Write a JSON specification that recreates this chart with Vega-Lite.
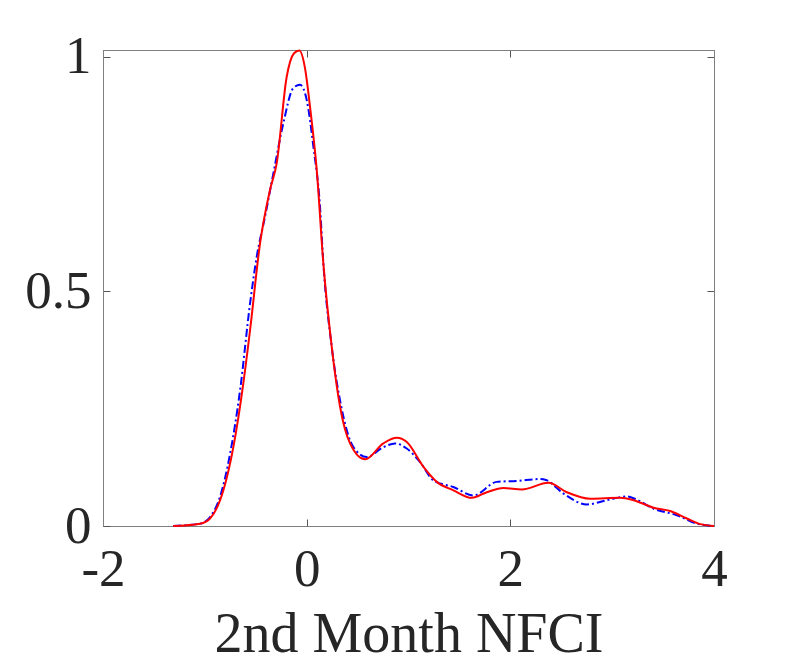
{
  "$schema": "https://vega.github.io/schema/vega-lite/v6.json",
  "width": 611,
  "height": 476,
  "autosize": "none",
  "padding": {"left": 103, "top": 50, "right": 75, "bottom": 138},
  "background": "white",
  "datasets": {
    "kde": [
      {"series": "blue", "x": -1.31, "y": 0},
      {"series": "blue", "x": -1.047, "y": 0.005},
      {"series": "blue", "x": -0.949, "y": 0.019},
      {"series": "blue", "x": -0.851, "y": 0.062},
      {"series": "blue", "x": -0.752, "y": 0.154},
      {"series": "blue", "x": -0.654, "y": 0.289},
      {"series": "blue", "x": -0.556, "y": 0.474},
      {"series": "blue", "x": -0.49, "y": 0.574},
      {"series": "blue", "x": -0.409, "y": 0.659},
      {"series": "blue", "x": -0.327, "y": 0.751},
      {"series": "blue", "x": -0.229, "y": 0.858},
      {"series": "blue", "x": -0.131, "y": 0.933},
      {"series": "blue", "x": -0.065, "y": 0.94},
      {"series": "blue", "x": 0.0, "y": 0.908},
      {"series": "blue", "x": 0.066, "y": 0.808},
      {"series": "blue", "x": 0.131, "y": 0.68},
      {"series": "blue", "x": 0.164, "y": 0.559},
      {"series": "blue", "x": 0.246, "y": 0.382},
      {"series": "blue", "x": 0.34, "y": 0.254},
      {"series": "blue", "x": 0.459, "y": 0.168},
      {"series": "blue", "x": 0.59, "y": 0.147},
      {"series": "blue", "x": 0.753, "y": 0.168},
      {"series": "blue", "x": 0.868, "y": 0.176},
      {"series": "blue", "x": 0.983, "y": 0.165},
      {"series": "blue", "x": 1.114, "y": 0.136},
      {"series": "blue", "x": 1.245, "y": 0.097},
      {"series": "blue", "x": 1.441, "y": 0.083},
      {"series": "blue", "x": 1.637, "y": 0.065},
      {"series": "blue", "x": 1.867, "y": 0.094},
      {"series": "blue", "x": 2.063, "y": 0.096},
      {"series": "blue", "x": 2.292, "y": 0.1},
      {"series": "blue", "x": 2.35, "y": 0.098},
      {"series": "blue", "x": 2.522, "y": 0.069},
      {"series": "blue", "x": 2.751, "y": 0.046},
      {"series": "blue", "x": 2.948, "y": 0.055},
      {"series": "blue", "x": 3.145, "y": 0.063},
      {"series": "blue", "x": 3.243, "y": 0.056},
      {"series": "blue", "x": 3.406, "y": 0.037},
      {"series": "blue", "x": 3.636, "y": 0.023},
      {"series": "blue", "x": 3.832, "y": 0.005},
      {"series": "blue", "x": 4.0, "y": 0},
      {"series": "red", "x": -1.31, "y": 0},
      {"series": "red", "x": -1.047, "y": 0.005},
      {"series": "red", "x": -0.949, "y": 0.016},
      {"series": "red", "x": -0.818, "y": 0.076},
      {"series": "red", "x": -0.72, "y": 0.168},
      {"series": "red", "x": -0.622, "y": 0.304},
      {"series": "red", "x": -0.556, "y": 0.417},
      {"series": "red", "x": -0.458, "y": 0.602},
      {"series": "red", "x": -0.36, "y": 0.716},
      {"series": "red", "x": -0.294, "y": 0.773},
      {"series": "red", "x": -0.196, "y": 0.957},
      {"series": "red", "x": -0.124, "y": 1.007},
      {"series": "red", "x": -0.072, "y": 1.013},
      {"series": "red", "x": -0.016, "y": 0.975},
      {"series": "red", "x": 0.033, "y": 0.893},
      {"series": "red", "x": 0.099, "y": 0.758},
      {"series": "red", "x": 0.164, "y": 0.559},
      {"series": "red", "x": 0.246, "y": 0.382},
      {"series": "red", "x": 0.328, "y": 0.254},
      {"series": "red", "x": 0.426, "y": 0.176},
      {"series": "red", "x": 0.574, "y": 0.142},
      {"series": "red", "x": 0.753, "y": 0.176},
      {"series": "red", "x": 0.885, "y": 0.188},
      {"series": "red", "x": 0.983, "y": 0.179},
      {"series": "red", "x": 1.147, "y": 0.126},
      {"series": "red", "x": 1.278, "y": 0.094},
      {"series": "red", "x": 1.441, "y": 0.076},
      {"series": "red", "x": 1.622, "y": 0.06},
      {"series": "red", "x": 1.769, "y": 0.072},
      {"series": "red", "x": 1.932, "y": 0.081},
      {"series": "red", "x": 2.113, "y": 0.078},
      {"series": "red", "x": 2.374, "y": 0.092},
      {"series": "red", "x": 2.555, "y": 0.072},
      {"series": "red", "x": 2.784, "y": 0.058},
      {"series": "red", "x": 3.079, "y": 0.06},
      {"series": "red", "x": 3.21, "y": 0.055},
      {"series": "red", "x": 3.406, "y": 0.039},
      {"series": "red", "x": 3.57, "y": 0.032},
      {"series": "red", "x": 3.734, "y": 0.016},
      {"series": "red", "x": 3.865, "y": 0.004},
      {"series": "red", "x": 4.0, "y": 0}
    ]
  },
  "data": {"name": "kde"},
  "layer": [
    {
      "transform": [{"filter": "datum.series == 'blue'"}],
      "mark": {
        "type": "line",
        "interpolate": "monotone",
        "color": "#0000ff",
        "strokeWidth": 2,
        "strokeDash": [8, 3, 2, 3]
      },
      "encoding": {
        "x": {
          "field": "x",
          "type": "quantitative",
          "scale": {"domain": [-2, 4], "nice": false},
          "axis": {
            "orient": "bottom",
            "values": [-2, 0, 2, 4],
            "labelExpr": "'' + datum.value",
            "labelPadding": 24,
            "title": "2nd Month NFCI",
            "titlePadding": 11
          }
        },
        "y": {
          "field": "y",
          "type": "quantitative",
          "scale": {"domain": [0, 1.014], "nice": false},
          "axis": {
            "orient": "left",
            "values": [0, 0.5, 1],
            "labelExpr": "'' + datum.value",
            "labelPadding": 19,
            "title": null
          }
        }
      }
    },
    {
      "transform": [{"filter": "datum.series == 'red'"}],
      "mark": {
        "type": "line",
        "interpolate": "monotone",
        "color": "#ff0000",
        "strokeWidth": 2
      },
      "encoding": {
        "x": {
          "field": "x",
          "type": "quantitative",
          "axis": {"orient": "top", "values": [-2, 0, 2, 4], "labels": false, "title": null}
        },
        "y": {
          "field": "y",
          "type": "quantitative",
          "axis": {"orient": "right", "values": [0, 0.5, 1], "labels": false, "title": null}
        }
      }
    }
  ],
  "resolve": {"axis": {"x": "independent", "y": "independent"}},
  "config": {
    "view": {"stroke": "#7f7f7f", "strokeWidth": 1},
    "axis": {
      "grid": false,
      "domainColor": "#7f7f7f",
      "tickColor": "#555555",
      "tickSize": -7,
      "labelFlush": false,
      "labelFont": "Liberation Serif",
      "labelFontSize": 53,
      "labelColor": "#262626",
      "titleFont": "Liberation Serif",
      "titleFontSize": 56,
      "titleFontWeight": "normal",
      "titleColor": "#262626"
    }
  }
}
